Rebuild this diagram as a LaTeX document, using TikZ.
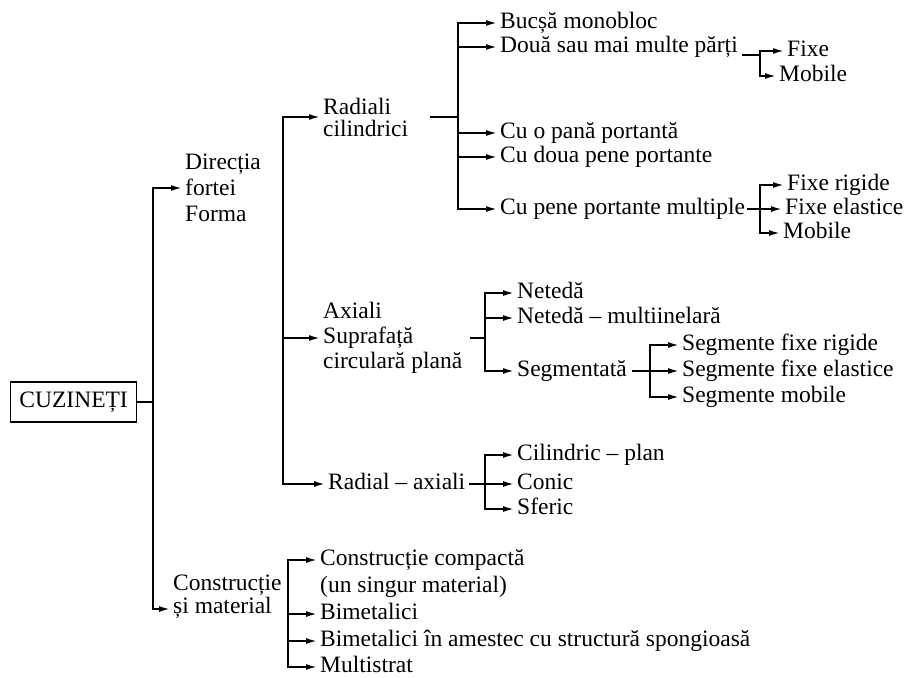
\documentclass[tikz,border=0pt]{standalone}
\usepackage{fontspec}
\setmainfont{Liberation Serif}
\usetikzlibrary{arrows.meta}

\begin{document}
\begin{tikzpicture}[x=1pt,y=-1pt,
  ln/.style={line width=1.8pt},
  arr/.style={ln,-{Latex[length=11pt,width=6pt]},shorten >=3pt},
  txt/.style={font=\fontsize{23.5}{25}\selectfont,inner sep=0pt,anchor=west},
  item/.style={txt,text height=16pt,text depth=5pt},
  multi/.style={txt,align=left,font=\fontsize{23.5}{#1}\selectfont},
  rootbox/.style={draw,line width=1.3pt,font=\fontsize{23.5}{25}\selectfont,
    anchor=west,minimum width=126pt,minimum height=40pt,inner sep=0pt}
]
\fill[white] (0,0) rectangle (909,677);
\useasboundingbox (0,0) rectangle (909,677);

% ---- root and first level
\node[rootbox] (root) at (10,402) {CUZINEȚI};
\coordinate (b0) at (153,0);
\node[multi=26] (dir) at (185,188) {Direcția\\fortei\\Forma};
\node[multi=23,anchor=south west] (cons) at (173,619) {Construcție\\și material};
\coordinate (consA) at ([yshift=10pt]cons.south west);

% ---- direction of the load
\coordinate (b1) at (283,0);
\node[multi=22] (rad) at (323,117) {Radiali\\cilindrici};
\node[multi=25] (ax) at (323,338) {Axiali\\Suprafață\\circulară plană};
\node[item] (ra) at (328,484) {Radial – axiali};

% ---- radial bearings
\coordinate (b2a) at (458,0);
\node[item] (bm)  at (500,23)  {Bucșă monobloc};
\node[item] (dp)  at (500,47)  {Două sau mai multe părți};
\node[item] (cp1) at (500,133) {Cu o pană portantă};
\node[item] (cp2) at (500,157) {Cu doua pene portante};
\node[item] (cpm) at (500,209) {Cu pene portante multiple};

\coordinate (b3) at (760,0);
\node[item] (fx)  at (787,51)  {Fixe};
\node[item] (mb1) at (779,76)  {Mobile};
\node[item] (fr)  at (787,185) {Fixe rigide};
\node[item] (fe)  at (785,209) {Fixe elastice};
\node[item] (mb2) at (783,233) {Mobile};

% ---- axial bearings
\coordinate (b2b) at (485,0);
\node[item] (ne) at (517,293) {Netedă};
\node[item] (nm) at (517,318) {Netedă – multiinelară};
\node[item] (sg) at (517,371) {Segmentată};

\coordinate (b3b) at (650,0);
\node[item] (sfr) at (682,345) {Segmente fixe rigide};
\node[item] (sfe) at (682,371) {Segmente fixe elastice};
\node[item] (smb) at (682,397) {Segmente mobile};

% ---- radial-axial bearings
\node[item] (cil) at (517,455) {Cilindric – plan};
\node[item] (con) at (517,484) {Conic};
\node[item] (sfe2) at (517,509) {Sferic};

% ---- construction and material
\coordinate (b1c) at (288,0);
\node[item] (cc)  at (320,560) {Construcție compactă};
\node[item] (us)  at (320,587) {(un singur material)};
\node[item] (bi)  at (320,614) {Bimetalici};
\node[item] (bia) at (320,641) {Bimetalici în amestec cu structură spongioasă};
\node[item] (ms)  at (320,667) {Multistrat};

% ================= connectors
\draw[ln] (root.east) -- (root.east -| b0);
\draw[arr] (consA -| b0) -- (dir.west -| b0) -- (dir.west);
\draw[arr] (dir.west -| b0) -- (consA -| b0) -- (consA);

\draw[arr] (ra.west -| b1) -- (rad.west -| b1) -- (rad.west);
\draw[arr] (rad.west -| b1) -- (ra.west -| b1) -- (ra.west);
\draw[arr] (ax.west -| b1) -- (ax.west);

% radial
\draw[ln] ([xshift=22pt]rad.east) -- (rad.east -| b2a);
\draw[arr] (cpm.west -| b2a) -- (bm.west -| b2a) -- (bm.west);
\draw[arr] (bm.west -| b2a) -- (cpm.west -| b2a) -- (cpm.west);
\draw[arr] (dp.west -| b2a) -- (dp.west);
\draw[arr] (cp1.west -| b2a) -- (cp1.west);
\draw[arr] (cp2.west -| b2a) -- (cp2.west);

\draw[ln] ([xshift=4pt,yshift=-8pt]dp.east) -- ([yshift=-8pt]dp.east -| b3);
\draw[arr] (mb1.west -| b3) -- (fx.west -| b3) -- (fx.west);
\draw[arr] (fx.west -| b3) -- (mb1.west -| b3) -- (mb1.west);

\draw[arr] ([xshift=2pt]cpm.east) -- (fe.west);
\draw[arr] (mb2.west -| b3) -- (fr.west -| b3) -- (fr.west);
\draw[arr] (fr.west -| b3) -- (mb2.west -| b3) -- (mb2.west);

% axial
\draw[ln] ([xshift=8pt]ax.east) -- (ax.east -| b2b);
\draw[arr] (sg.west -| b2b) -- (ne.west -| b2b) -- (ne.west);
\draw[arr] (ne.west -| b2b) -- (sg.west -| b2b) -- (sg.west);
\draw[arr] (nm.west -| b2b) -- (nm.west);

\draw[arr] ([xshift=5pt]sg.east) -- (sfe.west);
\draw[arr] (smb.west -| b3b) -- (sfr.west -| b3b) -- (sfr.west);
\draw[arr] (sfr.west -| b3b) -- (smb.west -| b3b) -- (smb.west);

% radial-axial
\draw[arr] ([xshift=4pt]ra.east) -- (con.west);
\draw[arr] (sfe2.west -| b2b) -- (cil.west -| b2b) -- (cil.west);
\draw[arr] (cil.west -| b2b) -- (sfe2.west -| b2b) -- (sfe2.west);

% construction
\draw[arr] (ms.west -| b1c) -- (cc.west -| b1c) -- (cc.west);
\draw[arr] (cc.west -| b1c) -- (ms.west -| b1c) -- (ms.west);
\draw[arr] (bi.west -| b1c) -- (bi.west);
\draw[arr] (bia.west -| b1c) -- (bia.west);
\end{tikzpicture}
\end{document}
